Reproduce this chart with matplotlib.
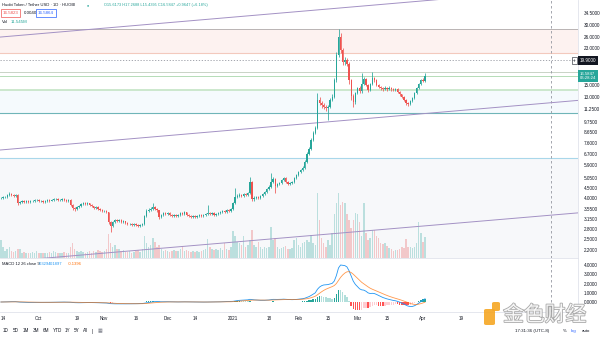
import numpy as np
import pandas as pd
import matplotlib
matplotlib.use("Agg")
import matplotlib.pyplot as plt
import matplotlib.patheffects as pe
from matplotlib.patches import FancyBboxPatch
from matplotlib.ticker import NullLocator, NullFormatter, MaxNLocator
from matplotlib.transforms import blended_transform_factory

plt.rcParams["font.family"] = ["Liberation Sans", "DejaVu Sans"]

# daily candles, day 0 = 2020-09-14, last candle = day 200
days = np.arange(-1, 201)
first_open = 4.00
close = [4.02, 4.06, 4.06, 4.16, 4.21, 4.16, 4.11, 4.16, 3.79, 3.84,
         3.88, 3.84, 3.88, 3.84, 3.88, 3.88, 3.93, 3.93, 3.88, 3.88,
         3.84, 3.88, 3.93, 3.88, 3.93, 3.97, 3.97, 3.93, 3.93, 3.97,
         3.93, 3.88, 3.93, 3.70, 3.58, 3.53, 3.62, 3.66, 3.75, 3.79,
         3.75, 3.79, 3.70, 3.66, 3.58, 3.62, 3.53, 3.49, 3.45, 3.45,
         3.41, 3.04, 2.90, 3.04, 3.11, 3.07, 3.11, 3.04, 3.07, 3.00,
         2.97, 2.97, 2.94, 2.97, 2.94, 2.90, 2.94, 2.97, 3.26, 3.45,
         3.49, 3.53, 3.62, 3.53, 3.49, 3.22, 3.30, 3.38, 3.34, 3.38,
         3.30, 3.26, 3.30, 3.26, 3.30, 3.38, 3.34, 3.41, 3.30, 3.26,
         3.22, 3.26, 3.22, 3.26, 3.30, 3.26, 3.30, 3.34, 3.38, 3.34,
         3.38, 3.30, 3.34, 3.38, 3.41, 3.45, 3.41, 3.49, 3.45, 3.53,
         3.79, 4.06, 4.11, 4.16, 4.11, 4.21, 4.16, 4.26, 4.84, 3.97,
         4.02, 4.06, 4.02, 4.11, 4.21, 4.31, 4.46, 4.57, 4.84, 5.01,
         4.62, 4.73, 4.78, 4.95, 5.07, 4.84, 4.73, 4.78, 4.84, 5.07,
         5.25, 5.43, 5.56, 5.70, 6.12, 6.70, 7.14, 7.89, 8.55, 9.06,
         12.6, 12.1, 11.8, 11.6, 11.4, 11.6, 12.6, 13.0, 15.8, 21.2,
         26.1, 22.5, 19.5, 20.0, 19.1, 15.8, 13.1, 12.3, 13.6, 14.4,
         13.9, 15.1, 16.0, 15.0, 14.1, 15.1, 16.2, 15.8, 15.0, 14.6,
         14.4, 14.3, 14.4, 14.3, 14.4, 14.3, 14.1, 14.3, 13.8, 13.4,
         13.0, 12.6, 12.1, 12.0, 12.4, 12.8, 13.6, 14.4, 15.1, 15.8,
         15.6173, 16.5847]
high = [4.08, 4.12, 4.13, 4.22, 4.30, 4.26, 4.20, 4.22, 4.19, 3.90,
        3.93, 3.92, 3.93, 3.91, 3.92, 3.94, 3.99, 3.98, 3.96, 3.93,
        3.91, 3.93, 3.98, 3.96, 3.99, 4.04, 4.03, 4.01, 3.98, 4.03,
        4.00, 3.96, 3.98, 3.95, 3.73, 3.62, 3.66, 3.71, 3.80, 3.85,
        3.83, 3.84, 3.81, 3.73, 3.68, 3.66, 3.64, 3.56, 3.52, 3.49,
        3.48, 3.43, 3.08, 3.08, 3.16, 3.14, 3.16, 3.13, 3.11, 3.09,
        3.03, 3.01, 3.00, 3.01, 2.99, 2.97, 2.98, 3.02, 3.30, 3.52,
        3.56, 3.60, 3.80, 3.66, 3.57, 3.51, 3.35, 3.43, 3.41, 3.42,
        3.40, 3.33, 3.34, 3.32, 3.34, 3.43, 3.41, 3.46, 3.43, 3.33,
        3.29, 3.30, 3.28, 3.30, 3.34, 3.33, 3.34, 3.38, 3.70, 3.42,
        3.42, 3.41, 3.38, 3.42, 3.46, 3.50, 3.48, 3.54, 3.52, 3.58,
        3.85, 4.51, 4.20, 4.24, 4.22, 4.28, 4.26, 4.33, 5.13, 4.90,
        4.10, 4.13, 4.11, 4.17, 4.27, 4.38, 4.53, 4.66, 5.37, 5.12,
        5.05, 4.80, 4.86, 5.02, 5.15, 5.11, 4.88, 4.85, 4.91, 5.14,
        5.33, 5.52, 5.66, 5.80, 6.25, 6.85, 7.30, 8.05, 8.75, 9.30,
        13.6, 13.0, 12.4, 12.1, 11.9, 11.9, 12.8, 13.4, 16.2, 22.0,
        28.7, 27.4, 23.0, 20.8, 20.5, 19.5, 16.1, 13.5, 13.8, 14.6,
        14.7, 17.2, 16.5, 16.2, 15.2, 15.3, 17.4, 16.5, 16.0, 15.2,
        14.8, 14.6, 14.7, 14.6, 14.7, 14.6, 14.5, 14.5, 14.4, 13.9,
        13.5, 13.1, 12.7, 12.3, 12.6, 13.0, 13.8, 14.6, 15.3, 16.1,
        16.3, 17.2688]
low = [3.96, 3.99, 4.00, 4.03, 4.12, 4.10, 4.06, 4.08, 3.72, 3.74,
       3.80, 3.79, 3.81, 3.79, 3.81, 3.83, 3.85, 3.88, 3.84, 3.83,
       3.79, 3.81, 3.85, 3.84, 3.86, 3.90, 3.92, 3.89, 3.88, 3.90,
       3.89, 3.84, 3.85, 3.65, 3.50, 3.47, 3.50, 3.58, 3.63, 3.72,
       3.71, 3.72, 3.66, 3.62, 3.54, 3.55, 3.49, 3.45, 3.41, 3.40,
       3.37, 2.98, 2.71, 2.86, 3.00, 3.03, 3.04, 3.00, 3.01, 2.96,
       2.93, 2.93, 2.90, 2.91, 2.90, 2.86, 2.87, 2.91, 2.95, 3.22,
       3.40, 3.45, 3.50, 3.48, 3.43, 3.15, 3.18, 3.27, 3.30, 3.31,
       3.26, 3.22, 3.23, 3.22, 3.23, 3.27, 3.30, 3.31, 3.26, 3.22,
       3.18, 3.19, 3.18, 3.19, 3.23, 3.22, 3.23, 3.27, 3.31, 3.30,
       3.31, 3.26, 3.27, 3.31, 3.34, 3.38, 3.37, 3.38, 3.41, 3.42,
       3.50, 3.75, 4.00, 4.05, 4.05, 4.06, 4.10, 4.12, 4.22, 3.88,
       3.90, 3.96, 3.96, 3.98, 4.07, 4.17, 4.27, 4.42, 4.53, 4.78,
       4.26, 4.56, 4.68, 4.74, 4.90, 4.78, 4.66, 4.68, 4.74, 4.80,
       5.02, 5.20, 5.37, 5.50, 5.65, 6.05, 6.62, 7.05, 7.80, 8.45,
       8.95, 11.8, 11.5, 11.3, 11.1, 10.0, 11.4, 12.4, 12.8, 15.5,
       20.8, 21.8, 18.8, 18.9, 18.6, 15.2, 12.6, 11.6, 12.0, 13.4,
       13.6, 13.7, 14.9, 14.7, 13.8, 13.9, 15.0, 15.5, 14.8, 14.4,
       14.1, 14.0, 14.1, 14.0, 14.1, 14.0, 13.9, 13.9, 13.6, 13.2,
       12.8, 12.4, 11.9, 11.7, 11.9, 12.2, 12.7, 13.5, 14.3, 15.0,
       15.4, 15.4395]
volume = [10, 6, 4, 5, 6, 4, 3.5, 4, 5, 5,
          3, 3.5, 3, 2.5, 3, 3.5, 3, 4, 3, 2.5,
          3, 2.5, 3, 3.5, 3, 4, 3.5, 3, 2.5, 3,
          3.5, 3, 3, 6, 8, 5, 4, 3.5, 4, 3.5,
          3, 3.5, 4, 3, 4, 3.5, 4.5, 4, 3.5, 4,
          5, 13, 8, 6, 7, 5, 5, 4, 4.5, 3.5,
          3.5, 4, 3, 3.5, 4, 4.5, 3.5, 5, 12, 8,
          6, 7, 11, 9, 6, 7, 5, 4, 4.5, 4,
          3.5, 4, 4.5, 4, 4, 5, 6.5, 4, 4.5, 4,
          3.5, 4, 3.5, 4, 3.5, 4, 4.5, 5, 10.5, 6,
          5, 4.5, 5, 4.5, 5.5, 4.5, 8, 5, 4.5, 6,
          15, 12, 9, 8, 7, 12, 6, 7, 10, 15.5,
          7, 6, 9, 6, 5, 6, 5.5, 6, 17, 10,
          11, 6, 5, 5.5, 6, 6.5, 5, 5, 5.5, 10,
          11, 7, 6, 8, 9, 10, 9, 12.5, 8, 7,
          36, 21, 11, 8, 6, 10, 7, 14, 24, 30,
          36, 29, 31, 30, 24, 21, 16.5, 21, 25, 24,
          20, 12, 30, 14, 10, 11, 15.5, 15.5, 12, 11,
          8.5, 7.5, 8, 6.5, 5.5, 5, 4, 4.5, 4.5, 5,
          6, 5.5, 10.5, 6, 6, 5.5, 6, 8, 20, 14,
          9, 11.545]  # millions

# drawing tools on the chart (prices)
zone_top, zone_bottom = 28.7, 21.7
level_gray = 17.4
level_green = 14.1
level_teal = 10.8
level_blue = 6.4
cross_price = 19.9
cross_day = 259.7
last_price = 16.5847
trend_lines = [((-1.42, 26.1), (272.5, 46.4)),
               ((-1.42, 7.02), (272.5, 12.5)),
               ((-1.42, 1.91), (272.5, 3.38))]

price_ticks = [34.5, 30, 26, 23, 15, 13, 11.25, 9.75, 8.65, 7.6, 6.7,
               5.9, 5.05, 4.5, 4.0, 3.55, 3.15, 2.8, 2.5, 2.2]
time_ticks = [0, 17, 35, 48, 63, 78, 91, 109, 126, 140, 154, 168, 182,
              199, 217]
time_labels = ["14", "Oct", "19", "Nov", "16", "Dec", "14", "2021", "18",
               "Feb", "15", "Mar", "15", "Apr", "19"]

UP, DOWN = "#26a69a", "#ef5350"
TXT = "#131722"
GRID = "#e0e3eb"
W, H = 600, 337


def frac(x, y):
    return x / W, 1 - y / H


fig = plt.figure(figsize=(6, 3.37), dpi=100)
fig.patch.set_facecolor("white")
rect = [0, 79 / H, 578 / W, 258 / H]
axv = fig.add_axes(rect)
ax = fig.add_axes(rect, sharex=axv)
axv.set_zorder(1)
ax.set_zorder(2)
ax.patch.set_alpha(0)
axm = fig.add_axes([0, 25 / H, 578 / W, 54 / H], sharex=axv)

o = np.r_[first_open, close[:-1]]
c = np.array(close)
col = np.where(c >= o, UP, DOWN)

# volume overlay
axv.bar(days, volume, width=0.7, color=col, alpha=0.5, lw=0)
axv.set_ylim(0, 142)
axv.set_xlim(-1.42, 272.5)
axv.axis("off")

# price pane
ax.set_yscale("log")
ax.set_ylim(2.0, 40.17)
ax.axhspan(zone_bottom, zone_top, color="#fbe3df", alpha=0.45, lw=0, zorder=0)
ax.axhspan(level_teal, level_green, color="#e3f3fb", alpha=0.35, lw=0, zorder=0)
ax.axhspan(2.0, level_blue, color="#eef0f5", alpha=0.45, lw=0, zorder=0)
ax.axhline(zone_top, color="#b9b4b4", lw=0.7, zorder=1)
ax.axhline(zone_bottom, color="#f3c9bd", lw=0.8, zorder=1)
ax.axhline(level_gray, color="#c9d3c6", lw=0.7, zorder=1)
ax.axhline(last_price, color="#b5dcb7", lw=0.7, zorder=1)
ax.axhline(level_green, color="#c8e6c9", lw=1.3, zorder=1)
ax.axhline(level_teal, color="#6fb5b8", lw=0.8, zorder=1)
ax.axhline(level_blue, color="#a9d7ea", lw=0.8, zorder=1)
ax.axhline(cross_price, color="#9598a1", lw=0.6, ls=(0, (1.5, 2)), zorder=1)
for (d0, p0), (d1, p1) in trend_lines:
    ax.plot([d0, d1], [p0, p1], color="#a391c4", lw=0.7, zorder=2)

body_lo = np.minimum(o, c)
body_hi = np.maximum(np.maximum(o, c), body_lo * 1.004)
ax.vlines(days, low, high, colors=col, lw=0.55, zorder=3)
ax.bar(days, body_hi - body_lo, bottom=body_lo, width=0.62, color=col,
       lw=0, zorder=4)
ax.axvline(cross_day, color="#9598a1", lw=0.6, ls=(0, (3, 3)), zorder=1)

ax.yaxis.tick_right()
ax.set_yticks(price_ticks)
ax.set_yticklabels([f"{t:.4f}" for t in price_ticks])
ax.yaxis.set_minor_locator(NullLocator())
ax.yaxis.set_minor_formatter(NullFormatter())
ax.tick_params(axis="y", length=0, pad=4, labelsize=3.3, labelcolor=TXT)
ax.tick_params(axis="x", length=0, labelbottom=False)
for s in ["top", "left"]:
    ax.spines[s].set_visible(False)
ax.spines["right"].set_color(GRID)
ax.spines["bottom"].set_color(GRID)
ax.spines["right"].set_linewidth(0.6)
ax.spines["bottom"].set_linewidth(0.6)

# axis labels on the right
tr = blended_transform_factory(ax.transAxes, ax.transData)
ax.text(1.003, last_price, "16.5847\n06:28:24", transform=tr, fontsize=3.1,
        color="white", va="center", ha="left", linespacing=1.1,
        bbox=dict(boxstyle="square,pad=0.35", fc=UP, ec="none"), zorder=10,
        clip_on=False)
ax.text(1.003, cross_price, "19.9000", transform=tr, fontsize=3.3,
        color="white", va="center", ha="left",
        bbox=dict(boxstyle="square,pad=0.35", fc="#131722", ec="none"),
        zorder=10, clip_on=False)
ax.text(0.9935, cross_price, "+", transform=tr, fontsize=3.3, color=TXT,
        va="center", ha="center",
        bbox=dict(boxstyle="square,pad=0.25", fc="white", ec=TXT, lw=0.4),
        zorder=10, clip_on=False)

# MACD pane
cs = pd.Series(c)
macd = cs.ewm(span=12, adjust=False).mean() - cs.ewm(span=26, adjust=False).mean()
signal = macd.ewm(span=9, adjust=False).mean()
hist = (macd - signal).values
prev = np.r_[0, hist[:-1]]
hcol = np.where(hist >= 0, np.where(hist > prev, "#26a69a", "#b2dfdb"),
                np.where(hist > prev, "#ffcdd2", "#ff5252"))
axm.bar(days, hist, width=0.7, color=hcol, lw=0)
axm.plot(days, macd, color="#2196f3", lw=0.6)
axm.plot(days, signal, color="#ff6d00", lw=0.6, alpha=0.7)
axm.axvline(cross_day, color="#9598a1", lw=0.6, ls=(0, (3, 3)))
mmax = float(macd.max())
m_lo, m_hi = -mmax * 10 / 37, mmax * 44 / 37
axm.set_ylim(m_lo, m_hi)
m_ticks = [t for t in MaxNLocator(7).tick_values(m_lo, m_hi) if 0 <= t <= m_hi]
axm.yaxis.tick_right()
axm.set_yticks(m_ticks)
axm.set_yticklabels([f"{t:.4f}" for t in m_ticks])
axm.tick_params(axis="y", length=0, pad=4, labelsize=3.3, labelcolor=TXT)
axm.set_xticks(time_ticks)
axm.set_xticklabels(time_labels)
axm.tick_params(axis="x", length=0, pad=3, labelsize=3.3, labelcolor=TXT)
for s in ["top", "left"]:
    axm.spines[s].set_visible(False)
axm.spines["right"].set_color(GRID)
axm.spines["bottom"].set_color(GRID)
axm.spines["right"].set_linewidth(0.6)
axm.spines["bottom"].set_linewidth(0.6)

# header legend
fig.text(*frac(2, 5), "Huobi Token / Tether USD · 1D · HUOBI", fontsize=3.0,
         color=TXT, va="center")
fig.text(*frac(87, 5), "●", fontsize=2.6, color=UP, va="center")
fig.text(*frac(104, 5), "O15.6173 H17.2688 L15.4395 C16.5847 +0.9647 (+6.18%)",
         fontsize=2.8, color=UP, va="center")
fig.text(*frac(3, 13), "16.5823", fontsize=3.2, color=DOWN, va="center",
         bbox=dict(boxstyle="square,pad=0.35", fc="white", ec=DOWN, lw=0.5))
fig.text(*frac(24, 13), "0.0040", fontsize=3.2, color=TXT, va="center")
fig.text(*frac(38, 13), "16.5864", fontsize=3.2, color="#2962ff", va="center",
         bbox=dict(boxstyle="square,pad=0.35", fc="white", ec="#2962ff", lw=0.5))
fig.text(*frac(2, 22), "Vol", fontsize=3.2, color=TXT, va="center")
fig.text(*frac(11, 22), "11.545M", fontsize=3.2, color=UP, va="center")
fig.text(*frac(2, 264), "MACD 12 26 close 9", fontsize=3.0, color=TXT, va="center")
fig.text(*frac(39, 264), "0.3294", fontsize=3.0, color="#2196f3", va="center")
fig.text(*frac(50, 264), "0.1897", fontsize=3.0, color="#2196f3", va="center")
fig.text(*frac(68, 264), "-0.1396", fontsize=3.0, color="#ff6d00", va="center")

# bottom toolbar
for x, t in [(3, "1D"), (13, "5D"), (23, "1M"), (33, "3M"), (43, "6M"),
             (53, "YTD"), (65, "1Y"), (74, "5Y"), (83, "All"), (92, "|")]:
    fig.text(*frac(x, 331), t, fontsize=3.3, color=TXT, va="center")
fig.text(*frac(98, 331), "▦", fontsize=3.5, color="#787b86", va="center")
fig.text(*frac(515, 331), "17:31:36 (UTC-8)", fontsize=3.2, color=TXT, va="center")
fig.text(*frac(563, 331), "%", fontsize=3.2, color=TXT, va="center")
fig.text(*frac(571, 331), "log", fontsize=3.2, color="#2962ff", va="center")
fig.text(*frac(582, 331), "auto", fontsize=3.2, color=TXT, va="center")

# watermark
for (x0, y0, w, h) in [(484, 309, 11, 16), (492, 302, 8, 9)]:
    fx, fy = frac(x0, y0 + h)
    fig.patches.append(FancyBboxPatch((fx, fy), w / W, h / H,
                       boxstyle="round,pad=0,rounding_size=0.004",
                       transform=fig.transFigure, fc="#f5a623", ec="none",
                       alpha=0.9, zorder=20))
fig.text(*frac(503, 315), "金色财经", fontsize=15, family="Noto Sans CJK SC",
         color="white", va="center", alpha=0.9, zorder=20,
         path_effects=[pe.withStroke(linewidth=1.2, foreground="#a0a0a0")])

fig.savefig("out.png", dpi=100, facecolor="white")
